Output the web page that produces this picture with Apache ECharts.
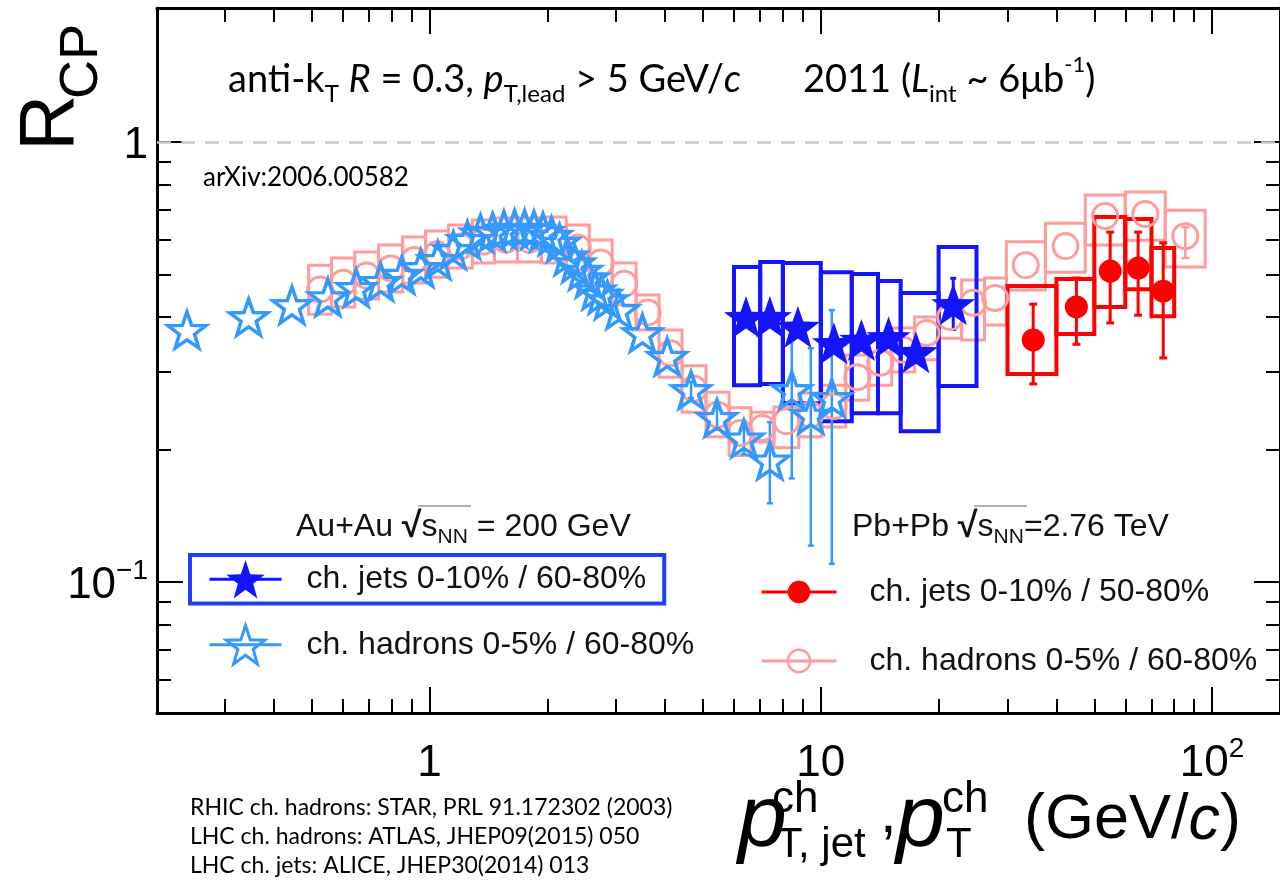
<!DOCTYPE html>
<html>
<head>
<meta charset="utf-8">
<script src="https://cdn.jsdelivr.net/npm/echarts@6/dist/echarts.min.js"></script>
<style>html,body{margin:0;padding:0;background:#fff}#c{width:1280px;height:882px}</style>
</head>
<body>
<div id="c"></div>
<script>
// ---------------- axis ticks / labels ----------------
const X_MIN = 0.2012, X_MAX = 149.1;
const Y_MIN = 0.0504, Y_MAX = 2.016;
const xMajorTicks = [1, 10, 100];
const xMajorLabels = ['1', '10', '10{sup|2}'];
const xMinorTicks = [0.3,0.4,0.5,0.6,0.7,0.8,0.9,2,3,4,5,6,7,8,9,20,30,40,50,60,70,80,90];
const yMajorTicks = [0.1, 1];
const yMajorLabels = ['10{sup|\u22121}', '1'];
const yMinorTicks = [0.06,0.07,0.08,0.09,0.2,0.3,0.4,0.5,0.6,0.7,0.8,0.9];

// ---------------- STAR charged hadrons (Au+Au 200 GeV) ----------------
const starHadX = [0.24,0.345,0.445,0.55,0.65,0.75,0.85,0.95,1.05,1.15,1.25,1.35,1.45,1.55,1.65,1.75,1.85,1.95,2.05,2.15,2.25,2.35,2.45,2.55,2.65,2.75,2.85,3.05,3.5,4.05,4.66,5.43,6.36,7.41,8.43,9.43,10.67];
const starHadY = [0.374,0.400,0.426,0.444,0.466,0.481,0.499,0.517,0.539,0.568,0.599,0.620,0.625,0.632,0.635,0.635,0.632,0.625,0.612,0.590,0.550,0.530,0.510,0.490,0.460,0.450,0.437,0.415,0.368,0.325,0.273,0.236,0.212,0.189,0.273,0.240,0.262];
const starHadErrLo = [null,null,null,null,null,null,null,null,null,null,null,null,null,null,null,null,null,null,null,null,null,null,null,null,null,null,null,null,null,null,0.262,0.222,0.195,0.151,0.172,0.121,0.110];
const starHadErrHi = [null,null,null,null,null,null,null,null,null,null,null,null,null,null,null,null,null,null,null,null,null,null,null,null,null,null,null,null,null,null,0.285,0.252,0.232,0.231,0.355,0.340,0.415];

// ---------------- STAR charged jets ----------------
const starJetX = [6.44,7.41,8.74,10.8,12.7,14.9,17.5,21.8];
const starJetY = [0.400,0.400,0.380,0.349,0.355,0.360,0.333,0.428];
const starJetXlo = [6,7,8,10,12,14,16,20];
const starJetXhi = [7,8,10,12,14,16,20,25];
const starJetSysLo = [0.280,0.282,0.255,0.232,0.242,0.242,0.220,0.279];
const starJetSysHi = [0.520,0.534,0.531,0.506,0.501,0.483,0.454,0.577];
const starJetStatLo = [null,null,null,null,null,null,null,0.375];
const starJetStatHi = [null,null,null,null,null,null,null,0.490];

// ---------------- ALICE charged jets (Pb+Pb 2.76 TeV) ----------------
const aliceJetX = [34.9,45.0,54.9,64.7,75.0];
const aliceJetY = [0.355,0.422,0.509,0.517,0.458];
const aliceJetXlo = [30,40,50,60,70];
const aliceJetXhi = [40,50,60,70,80];
const aliceJetSysLo = [0.297,0.366,0.422,0.463,0.402];
const aliceJetSysHi = [0.471,0.488,0.675,0.668,0.574];
const aliceJetStatLo = [0.282,0.347,0.388,0.404,0.323];
const aliceJetStatHi = [0.428,0.491,0.624,0.624,0.590];

// ---------------- ATLAS charged hadrons ----------------
const atlasXlo = [0.491,0.562,0.644,0.741,0.854,0.977,1.118,1.287,1.465,1.677,1.931,2.236,2.56,2.93,3.373,3.862,4.42,5.09,5.83,6.63,7.59,8.79,10.06,11.58,13.26,15.18,17.37,20.0,22.9,26.2,29.8,37.5,47.4,60.0,75.9];
const atlasXhi = [0.562,0.644,0.741,0.854,0.977,1.118,1.287,1.465,1.677,1.931,2.236,2.56,2.93,3.373,3.862,4.42,5.09,5.83,6.63,7.59,8.79,10.06,11.58,13.26,15.18,17.37,20.0,22.9,26.2,29.8,37.5,47.4,60.0,75.9,96.0];
const atlasX = [0.525,0.602,0.691,0.796,0.914,1.045,1.20,1.373,1.567,1.80,2.078,2.393,2.739,3.144,3.609,4.13,4.74,5.45,6.22,7.09,8.17,9.40,10.79,12.39,14.19,16.24,18.64,21.4,24.5,27.9,33.4,42.2,53.3,67.5,85.4];
const atlasY = [0.462,0.479,0.497,0.516,0.539,0.556,0.579,0.594,0.599,0.599,0.599,0.575,0.532,0.476,0.410,0.331,0.275,0.240,0.218,0.224,0.232,0.240,0.251,0.292,0.315,0.337,0.368,0.400,0.431,0.442,0.525,0.580,0.679,0.686,0.611];
const atlasSysLo = [0.406,0.422,0.440,0.456,0.478,0.493,0.517,0.531,0.534,0.534,0.531,0.512,0.473,0.426,0.374,0.292,0.243,0.214,0.194,0.208,0.202,0.214,0.225,0.259,0.280,0.300,0.320,0.358,0.355,0.384,0.461,0.506,0.583,0.598,0.520];
const atlasSysHi = [0.525,0.545,0.562,0.583,0.608,0.628,0.648,0.665,0.672,0.672,0.675,0.648,0.599,0.531,0.449,0.374,0.310,0.270,0.249,0.243,0.250,0.269,0.280,0.328,0.355,0.378,0.400,0.437,0.486,0.491,0.593,0.654,0.758,0.770,0.700];
const atlasStatLo = [null,null,null,null,null,null,null,null,null,null,null,null,null,null,null,null,null,null,null,null,null,null,null,null,null,null,null,null,null,null,null,null,null,null,0.545];
const atlasStatHi = [null,null,null,null,null,null,null,null,null,null,null,null,null,null,null,null,null,null,null,null,null,null,null,null,null,null,null,null,null,null,null,null,null,null,0.640];

// ---------------- legend texts ----------------
const seriesNames = ['STAR jets', 'STAR hadrons', 'ALICE jets', 'ATLAS hadrons'];
const legendLabels = ['ch. jets 0-10% / 60-80%', 'ch. hadrons 0-5% / 60-80%', 'ch. jets 0-10% / 50-80%', 'ch. hadrons 0-5% / 60-80%'];

// ---------------- styles ----------------
const C_LBLUE = '#3399ff', C_BLUE = '#1414ff', C_RED = '#ff0000', C_PINK = '#ff9c9c';
const FH = 'Liberation Sans, Arial, Helvetica, sans-serif';
const FC = 'Lato, Open Sans, sans-serif';
const STAR = 'path://M50 0 L61.76 33.82 L97.55 34.55 L69.02 56.18 L79.39 90.45 L50 70 L20.61 90.45 L30.98 56.18 L2.45 34.55 L38.24 33.82 Z';

function pairs(xs, ys) { return xs.map((x, i) => [x, ys[i]]); }
function boxes(lo, hi, ylo, yhi) { return lo.map((x, i) => [x, hi[i], ylo[i], yhi[i]]); }
function errs(xs, lo, hi) {
  const out = [];
  xs.forEach((x, i) => { if (lo[i] != null && hi[i] != null) out.push([x, lo[i], hi[i]]); });
  return out;
}
function tickIdx(v, arr) {
  let best = 0, bd = 1e9;
  arr.forEach((t, i) => { const d = Math.abs(Math.log10(v) - Math.log10(t)); if (d < bd) { bd = d; best = i; } });
  return best;
}
function boxSeries(data, color, width) {
  return {
    type: 'custom', silent: true, data: data, encode: {x: [0, 1], y: [2, 3]},
    renderItem: function (params, api) {
      const p0 = api.coord([api.value(0), api.value(3)]);
      const p1 = api.coord([api.value(1), api.value(2)]);
      return {type: 'rect', shape: {x: p0[0], y: p0[1], width: p1[0] - p0[0], height: p1[1] - p0[1]},
        style: {fill: 'none', stroke: color, lineWidth: width}};
    }
  };
}
function errSeries(data, color, width, cap) {
  return {
    type: 'custom', silent: true, data: data, encode: {x: 0, y: [1, 2]},
    renderItem: function (params, api) {
      const a = api.coord([api.value(0), api.value(2)]);
      const b = api.coord([api.value(0), api.value(1)]);
      const st = {stroke: color, lineWidth: width};
      return {type: 'group', children: [
        {type: 'line', shape: {x1: a[0], y1: a[1], x2: b[0], y2: b[1]}, style: st},
        {type: 'line', shape: {x1: a[0] - cap, y1: a[1], x2: a[0] + cap, y2: a[1]}, style: st},
        {type: 'line', shape: {x1: b[0] - cap, y1: b[1], x2: b[0] + cap, y2: b[1]}, style: st}
      ]};
    }
  };
}
const supRich = {sup: {fontSize: 28, lineHeight: 28, verticalAlign: 'top', fontFamily: FH, color: '#000'}};
function xAx(pos, ticks, len, line, labels) {
  return {
    type: 'log', logBase: 10, gridIndex: 0, position: pos, min: X_MIN, max: X_MAX,
    axisLine: {show: line, onZero: false, lineStyle: {color: '#000', width: 3}},
    axisTick: {show: true, inside: true, length: len, customValues: ticks, lineStyle: {color: '#000', width: 2}},
    axisLabel: labels ? {show: true, customValues: ticks, margin: 22, fontSize: 44, lineHeight: 58, fontFamily: FH, color: '#000',
      formatter: v => labels[tickIdx(v, ticks)], rich: supRich} : {show: false},
    splitLine: {show: false}, minorTick: {show: false}, minorSplitLine: {show: false}
  };
}
function yAx(pos, ticks, len, line, labels) {
  return {
    type: 'log', logBase: 10, gridIndex: 0, position: pos, min: Y_MIN, max: Y_MAX,
    axisLine: {show: line, onZero: false, lineStyle: {color: '#000', width: 3}},
    axisTick: {show: true, inside: true, length: len, customValues: ticks, lineStyle: {color: '#000', width: 2}},
    axisLabel: labels ? {show: true, customValues: ticks, margin: 9, fontSize: 44, lineHeight: 58, padding: [8, 0, 0, 0], fontFamily: FH, color: '#000',
      formatter: v => labels[tickIdx(v, ticks)], rich: supRich} : {show: false},
    splitLine: {show: false}, minorTick: {show: false}, minorSplitLine: {show: false}
  };
}
function ptSeries(name, data, symbol, size, itemStyle) {
  return {
    type: 'line', name: name, data: data, symbol: symbol, symbolSize: size, showSymbol: true,
    lineStyle: {opacity: 0, width: 0}, itemStyle: itemStyle, silent: true, z: 3
  };
}
const legendFmt = n => legendLabels[seriesNames.indexOf(n)];
const legTxt = (pad) => ({fontSize: 32, fontFamily: FH, color: '#111', padding: [0, 0, 0, pad]});

const atlasPts = ptSeries(seriesNames[3], pairs(atlasX, atlasY), 'circle', 25, {color: 'none', borderColor: C_PINK, borderWidth: 3});
atlasPts.markLine = {silent: true, symbol: 'none', label: {show: false}, animation: false,
  lineStyle: {color: '#c8c8c8', width: 2.5, type: [14, 10]}, data: [{yAxis: 1}]};

const hdrRich = {sub: {fontSize: 21, lineHeight: 20, verticalAlign: 'bottom', fontFamily: FH}, sq: {fontSize: 36, lineHeight: 42, fontWeight: 'bold', fontFamily: FH}};

const option = {
  animation: false,
  backgroundColor: '#fff',
  grid: {left: 157, top: 8, width: 1125, height: 705, containLabel: false},
  xAxis: [
    xAx('bottom', xMajorTicks, 26, true, xMajorLabels),
    xAx('bottom', xMinorTicks, 14, false, null),
    xAx('top', xMajorTicks, 26, true, null),
    xAx('top', xMinorTicks, 14, false, null)
  ],
  yAxis: [
    yAx('left', yMajorTicks, 26, true, yMajorLabels),
    yAx('left', yMinorTicks, 14, false, null),
    yAx('right', yMajorTicks, 26, true, null),
    yAx('right', yMinorTicks, 14, false, null)
  ],
  legend: [
    {data: [{name: seriesNames[0], itemStyle: {color: C_BLUE, borderWidth: 0}, lineStyle: {color: C_BLUE, width: 3, opacity: 1}}],
      left: 190, top: 555, orient: 'vertical', itemWidth: 72, itemHeight: 48, padding: [5, 18, 5, 18],
      borderColor: '#1f3cff', borderWidth: 4, selectedMode: false, formatter: legendFmt, textStyle: legTxt(20)},
    {data: [{name: seriesNames[1], itemStyle: {color: 'none', borderColor: C_LBLUE, borderWidth: 3}, lineStyle: {color: C_LBLUE, width: 3, opacity: 1}}],
      left: 208, top: 623, orient: 'vertical', itemWidth: 72, itemHeight: 48, padding: 0,
      selectedMode: false, formatter: legendFmt, textStyle: legTxt(20)},
    {data: [{name: seriesNames[2], itemStyle: {color: C_RED, borderWidth: 0}, lineStyle: {color: C_RED, width: 3, opacity: 1}},
            {name: seriesNames[3], itemStyle: {color: 'none', borderColor: C_PINK, borderWidth: 2.5}, lineStyle: {color: C_PINK, width: 3, opacity: 1}}],
      left: 760, top: 576, orient: 'vertical', itemWidth: 75, itemHeight: 28, itemGap: 37, padding: 0,
      selectedMode: false, formatter: legendFmt, textStyle: legTxt(28)}
  ],
  series: [
    boxSeries(boxes(atlasXlo, atlasXhi, atlasSysLo, atlasSysHi), C_PINK, 3),
    errSeries(errs(atlasX, atlasStatLo, atlasStatHi), C_PINK, 2.5, 4),
    atlasPts,
    boxSeries(boxes(aliceJetXlo, aliceJetXhi, aliceJetSysLo, aliceJetSysHi), C_RED, 4),
    errSeries(errs(aliceJetX, aliceJetStatLo, aliceJetStatHi), C_RED, 3, 4),
    ptSeries(seriesNames[2], pairs(aliceJetX, aliceJetY), 'circle', 23, {color: C_RED, borderWidth: 0}),
    boxSeries(boxes(starJetXlo, starJetXhi, starJetSysLo, starJetSysHi), C_BLUE, 4),
    errSeries(errs(starHadX, starHadErrLo, starHadErrHi), C_LBLUE, 2.5, 3),
    ptSeries(seriesNames[1], pairs(starHadX, starHadY), STAR, [38, 36], {color: 'none', borderColor: C_LBLUE, borderWidth: 3.5}),
    errSeries(errs(starJetX, starJetStatLo, starJetStatHi), C_BLUE, 3, 3),
    ptSeries(seriesNames[0], pairs(starJetX, starJetY), STAR, [44, 42], {color: C_BLUE, borderWidth: 0})
  ],
  graphic: {elements: [
    // y-axis title R_CP (rotated)
    {type: 'text', x: 51, y: 151, rotation: Math.PI / 2, silent: true,
      style: {text: 'R', fontSize: 78, fontFamily: FH, fill: '#000', align: 'left', verticalAlign: 'middle'}},
    {type: 'text', x: 82, y: 99, rotation: Math.PI / 2, silent: true,
      style: {text: 'CP', fontSize: 54, fontFamily: FH, fill: '#000', align: 'left', verticalAlign: 'middle'}},
    // top annotation
    {type: 'text', x: 228, y: 80, silent: true,
      style: {text: 'anti-k{sub|T} {it|R} = 0.3, {it|p}{sub|T,lead} > 5 GeV/{it|c}', fontSize: 38, lineHeight: 52, fontFamily: FC, fill: '#000', align: 'left', verticalAlign: 'middle',
        rich: {sub: {fontSize: 24, lineHeight: 24, verticalAlign: 'bottom', fontFamily: FC}, it: {fontSize: 38, lineHeight: 52, fontStyle: 'italic', fontFamily: FC}}}},
    {type: 'text', x: 803, y: 80, silent: true,
      style: {text: '2011 ({it|L}{sub|int} ~ 6\u03bcb{sup|-1})', fontSize: 38, lineHeight: 52, fontFamily: FC, fill: '#000', align: 'left', verticalAlign: 'middle',
        rich: {sub: {fontSize: 24, lineHeight: 24, verticalAlign: 'bottom', fontFamily: FC}, it: {fontSize: 38, lineHeight: 52, fontStyle: 'italic', fontFamily: FC},
          sup: {fontSize: 22, lineHeight: 40, verticalAlign: 'top', fontFamily: FC}}}},
    {type: 'text', x: 203, y: 178, silent: true,
      style: {text: 'arXiv:2006.00582', fontSize: 26, fontFamily: FC, fill: '#000', align: 'left', verticalAlign: 'middle'}},
    // collision system headers
    {type: 'text', x: 296, y: 527, silent: true,
      style: {text: 'Au+Au {sq|\u221a}s{sub|NN} = 200 GeV', fontSize: 32, lineHeight: 42, fontFamily: FH, fill: '#111', align: 'left', verticalAlign: 'middle', rich: hdrRich}},
    {type: 'line', silent: true, shape: {x1: 418, y1: 506, x2: 471, y2: 506}, style: {stroke: '#9a9a9a', lineWidth: 1.5}},
    {type: 'text', x: 852, y: 527, silent: true,
      style: {text: 'Pb+Pb {sq|\u221a}s{sub|NN}=2.76 TeV', fontSize: 32, lineHeight: 42, fontFamily: FH, fill: '#111', align: 'left', verticalAlign: 'middle', rich: hdrRich}},
    {type: 'line', silent: true, shape: {x1: 974, y1: 506, x2: 1027, y2: 506}, style: {stroke: '#9a9a9a', lineWidth: 1.5}},
    // x-axis title
    {type: 'text', x: 738, y: 822, silent: true, style: {text: 'p', fontSize: 88, fontStyle: 'italic', fontFamily: FH, fill: '#000', verticalAlign: 'middle'}},
    {type: 'text', x: 772, y: 800, silent: true, style: {text: 'ch', fontSize: 44, fontFamily: FH, fill: '#000', verticalAlign: 'middle'}},
    {type: 'text', x: 777, y: 845, silent: true, style: {text: 'T, jet', fontSize: 42, fontFamily: FH, fill: '#000', verticalAlign: 'middle'}},
    {type: 'text', x: 880, y: 815, silent: true, style: {text: ',', fontSize: 60, fontFamily: FH, fill: '#000', verticalAlign: 'middle'}},
    {type: 'text', x: 896, y: 822, silent: true, style: {text: 'p', fontSize: 88, fontStyle: 'italic', fontFamily: FH, fill: '#000', verticalAlign: 'middle'}},
    {type: 'text', x: 942, y: 800, silent: true, style: {text: 'ch', fontSize: 44, fontFamily: FH, fill: '#000', verticalAlign: 'middle'}},
    {type: 'text', x: 946, y: 845, silent: true, style: {text: 'T', fontSize: 42, fontFamily: FH, fill: '#000', verticalAlign: 'middle'}},
    {type: 'text', x: 1024, y: 821, silent: true,
      style: {text: '(GeV/{it|c})', fontSize: 63, fontFamily: FH, fill: '#000', verticalAlign: 'middle',
        rich: {it: {fontSize: 63, fontStyle: 'italic', fontFamily: FH}}}},
    // references
    {type: 'text', x: 190, y: 808, silent: true, style: {text: 'RHIC ch. hadrons: STAR, PRL 91.172302 (2003)', fontSize: 23, fontFamily: FC, fill: '#000', verticalAlign: 'middle'}},
    {type: 'text', x: 190, y: 837, silent: true, style: {text: 'LHC ch. hadrons: ATLAS, JHEP09(2015) 050', fontSize: 23, fontFamily: FC, fill: '#000', verticalAlign: 'middle'}},
    {type: 'text', x: 190, y: 866, silent: true, style: {text: 'LHC ch. jets: ALICE, JHEP30(2014) 013', fontSize: 23, fontFamily: FC, fill: '#000', verticalAlign: 'middle'}}
  ]}
};
const chart = echarts.init(document.getElementById('c'), null, {renderer: 'canvas'});
chart.setOption(option);
</script>
</body>
</html>
